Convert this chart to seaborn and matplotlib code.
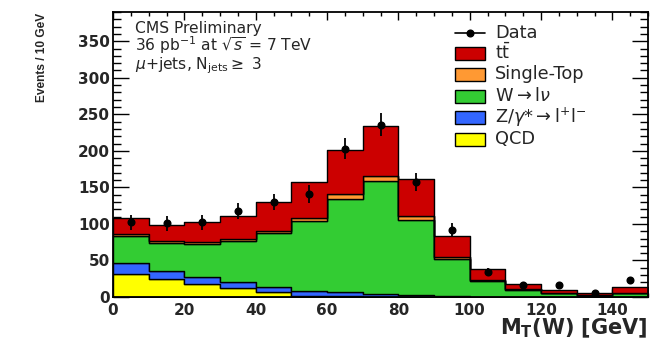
import numpy as np
import pandas as pd
import matplotlib
matplotlib.use("Agg")
import matplotlib.pyplot as plt
from matplotlib.patches import Rectangle
from matplotlib.lines import Line2D
from matplotlib.ticker import MultipleLocator
import seaborn as sns

# ---- M_T(W) histogram contents, 10 GeV bins from 0 to 150 GeV ----
bin_edges = np.arange(0, 160, 10)
bin_centers = bin_edges[:-1] + 5

ttbar = [21.9, 22.5, 27.3, 31.9, 39.0, 48.3, 60.7, 68.2, 51.8, 28.0, 14.2, 6.9, 3.4, 2.9, 8.7]
single_top = [2.3, 3.2, 2.3, 2.8, 3.1, 4.6, 6.4, 7.3, 5.0, 2.2, 1.5, 0.8, 0.6, 0.3, 0.5]
wjets = [37.3, 37.3, 44.6, 56.0, 73.9, 95.6, 127.5, 154.4, 102.5, 51.3, 21.8, 9.3, 4.8, 1.7, 4.8]
zjets = [15.0, 11.4, 10.0, 7.3, 7.6, 6.2, 5.4, 3.8, 2.5, 1.3, 0.5, 0.3, 0.2, 0.1, 0.2]
qcd = [31.0, 24.6, 17.8, 12.7, 6.4, 2.0, 1.0, 0.3, 0.2, 0.0, 0.0, 0.0, 0.0, 0.0, 0.0]
data = [102, 101, 102, 118, 130, 141, 203, 236, 157, 92, 34, 16, 17, 5, 23]

process_labels = [r"$\mathrm{t\bar{t}}$", "Single-Top", r"W$\rightarrow$l$\nu$",
                  r"Z/$\gamma$*$\rightarrow$l$^{+}$l$^{-}$", "QCD"]
process_colors = ["#CC0000", "#FF9933", "#33CC33", "#3366FF", "#FFFF00"]
x_ticks = [0, 20, 40, 60, 80, 100, 120, 140]
y_ticks = [0, 50, 100, 150, 200, 250, 300, 350]

sns.set_style("ticks")
plt.rcParams["font.family"] = ["DejaVu Sans"]
plt.rcParams["mathtext.fontset"] = "dejavusans"

# long-form table for the stacked histogram
series = [ttbar, single_top, wjets, zjets, qcd]
frames = []
for name, vals in zip(process_labels, series):
    frames.append(pd.DataFrame({"mt": bin_centers, "events": vals, "process": name}))
mc = pd.concat(frames, ignore_index=True)

W, H = 661, 339
fig = plt.figure(figsize=(W / 100, H / 100), dpi=100)
ax = fig.add_axes([113 / W, 1 - 297 / H, (648 - 113) / W, (297 - 12) / H])


def fig_xy(x, y):
    return x / W, 1 - y / H


# stacked MC (first hue level ends on top of the stack)
sns.histplot(data=mc, x="mt", weights="events", hue="process",
             hue_order=process_labels, palette=dict(zip(process_labels, process_colors)),
             multiple="stack", binwidth=10, binrange=(0, 150), element="step",
             fill=True, alpha=1, edgecolor="black", linewidth=1.0, legend=False, ax=ax)

# data points with Poisson errors
ax.errorbar(bin_centers, data, yerr=np.sqrt(data), fmt="o", color="black",
            markersize=4.8, elinewidth=1.3, capsize=0, zorder=5)

ax.set_xlim(0, 150)
ax.set_ylim(0, 390)

ax.set_xticks(x_ticks)
ax.set_xticklabels([str(v) for v in x_ticks], fontweight="bold", fontsize=11)
ax.set_yticks(y_ticks)
ax.set_yticklabels([str(v) for v in y_ticks], fontweight="bold", fontsize=11)
ax.xaxis.set_minor_locator(MultipleLocator(5))
ax.yaxis.set_minor_locator(MultipleLocator(10))
ax.tick_params(axis="both", which="both", direction="in", top=True, right=True,
               width=1.0, color="black")
ax.tick_params(axis="x", which="major", length=6, pad=4)
ax.tick_params(axis="x", which="minor", length=3)
ax.tick_params(axis="y", which="major", length=11.5, pad=2)
ax.tick_params(axis="y", which="minor", length=5.8)
for s in ax.spines.values():
    s.set_linewidth(1.3)
    s.set_color("black")

ax.set_ylabel("Events / 10 GeV", fontsize=8.6, fontweight="bold",
              family=["Liberation Sans", "DejaVu Sans"])
ax.yaxis.set_label_coords(-0.121, 0.842)
ax.set_xlabel(r"M$_{\mathbf{T}}$(W) [GeV]", fontsize=15, fontweight="bold", loc="right")
ax.xaxis.set_label_coords(1.0, -0.068)

# header text
txt_kw = dict(fontsize=11.2, ha="left", va="baseline", transform=fig.transFigure)
fig.text(*fig_xy(135, 32.5), "CMS Preliminary", **txt_kw)
fig.text(*fig_xy(135, 51), r"36 pb$^{-1}$ at $\sqrt{s}$ = 7 TeV", **txt_kw)
fig.text(*fig_xy(135, 69), r"$\mu$+jets, N$_{\rm jets}$$\geq$ 3", **txt_kw)

# legend
leg_y = [33, 53, 74, 96, 117, 139]
fig.add_artist(Line2D([455 / W, 485 / W], [1 - leg_y[0] / H] * 2, color="black",
                      lw=1.2, transform=fig.transFigure))
fig.add_artist(Line2D([470 / W], [1 - leg_y[0] / H], marker="o", color="black",
                      markersize=4.8, transform=fig.transFigure))
fig.text(*fig_xy(495, leg_y[0]), "Data", fontsize=12.8, va="center", ha="left")
for yy, lab, col in zip(leg_y[1:], process_labels, process_colors):
    fig.add_artist(Rectangle(fig_xy(455, yy + 6.5), 30 / W, 13 / H, facecolor=col,
                             edgecolor="black", lw=1.0, transform=fig.transFigure))
    fig.text(*fig_xy(495, yy), lab, fontsize=12.8, va="center", ha="left")

fig.savefig("out.png", dpi=100)
